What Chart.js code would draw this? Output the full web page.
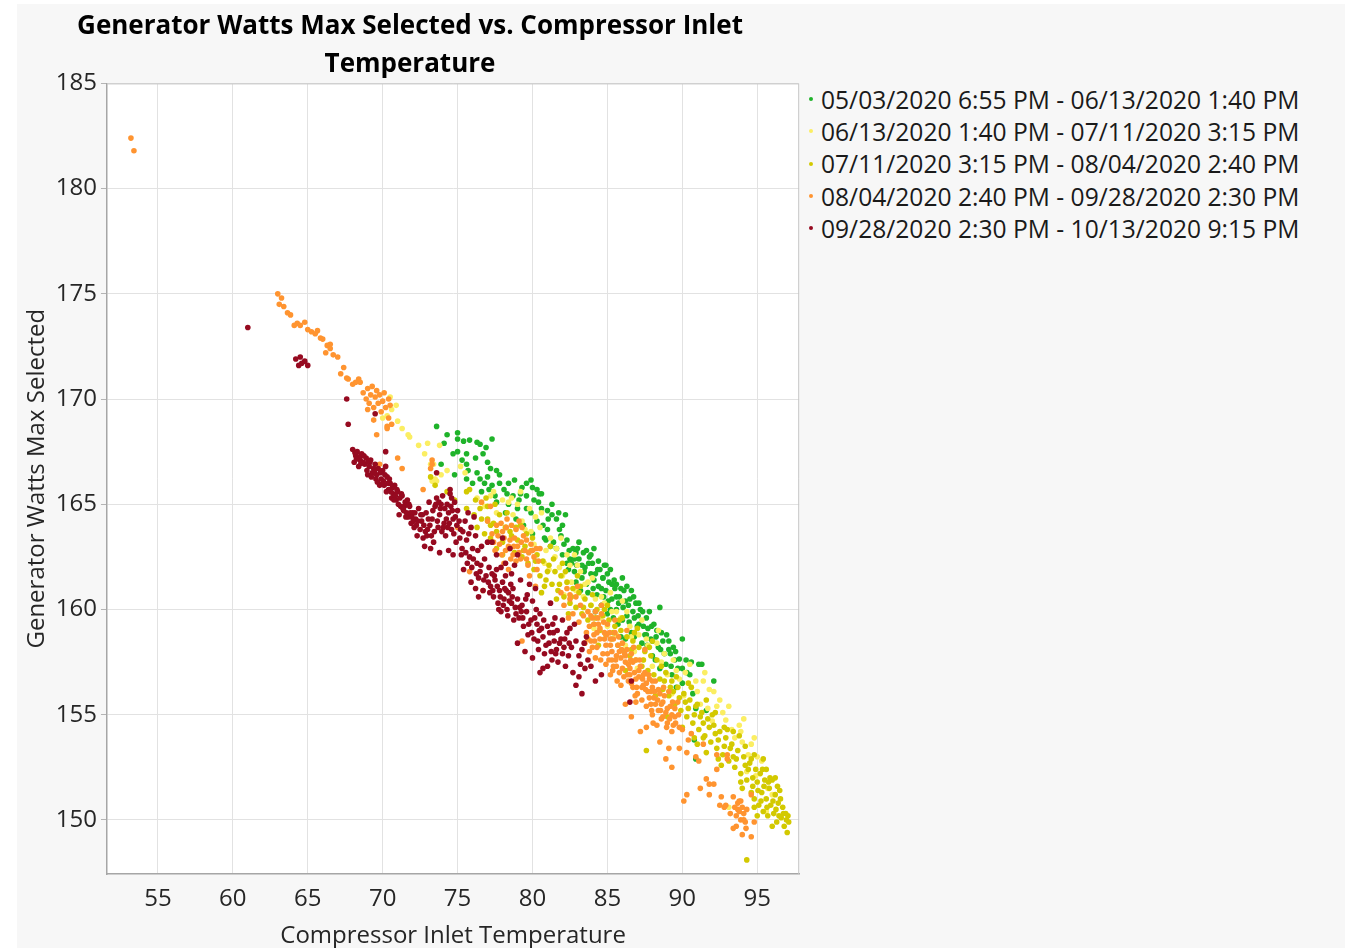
<!DOCTYPE html>
<html>
<head>
<meta charset="utf-8">
<title>Generator Watts Max Selected vs. Compressor Inlet Temperature</title>
<script src="https://cdn.jsdelivr.net/npm/chart.js@4.4.1/dist/chart.umd.min.js"></script>
<style>
  html, body { margin: 0; padding: 0; background: #ffffff; }
  #panel { position: absolute; left: 17px; top: 4px; width: 1328px; height: 944px; background: #f7f7f7; }
  #plot { position: absolute; left: 17px; top: 4px; }
  #legend { position: absolute; left: 809px; top: 83px; font-family: "Open Sans", sans-serif; font-size: 24.6px; color: #1a1a1a; }
  #legend .row { height: 32.3px; display: flex; align-items: center; white-space: nowrap; }
  #legend .dot { width: 4px; height: 4px; border-radius: 50%; margin-right: 8px; flex: none; }
</style>
</head>
<body>
<div id="panel"></div>
<canvas id="plot" width="785" height="944"></canvas>
<div id="legend"></div>
<script>
// ---- period labels ----
const seriesLabels = [
  "05/03/2020 6:55 PM - 06/13/2020 1:40 PM",
  "06/13/2020 1:40 PM - 07/11/2020 3:15 PM",
  "07/11/2020 3:15 PM - 08/04/2020 2:40 PM",
  "08/04/2020 2:40 PM - 09/28/2020 2:30 PM",
  "09/28/2020 2:30 PM - 10/13/2020 9:15 PM"
];

// ---- axis ticks ----
const xTicks = [55, 60, 65, 70, 75, 80, 85, 90, 95];
const yTicks = [150, 155, 160, 165, 170, 175, 180, 185];

// ---- readings: [compressor inlet temperature, generator watts max selected] ----
const mayJunePts = [
  [73.6,168.7],[74.3,168.3],[75.0,168.4],[75.0,168.1],[75.4,168.0],[75.8,168.05],[76.3,167.95],[76.5,167.85],[77.3,168.1],
  [74.7,167.4],[75.0,167.5],[75.6,167.4],[76.7,167.4],[77.0,167.0],[75.6,166.9],[75.7,166.6],[74.8,166.4],[77.2,166.7],
  [77.6,166.6],[77.8,166.4],[75.6,166.2],[76.0,166.0],[76.5,166.2],[74.1,167.9],[76.9,167.7],[73.9,166.9],[76.2,167.2],
  [78.4,166.0],[78.8,166.15],[79.6,166.0],[79.9,166.15],[78.3,165.5],[79.2,165.5],[79.6,165.4],[80.1,165.2],[80.4,165.1],
  [77.6,165.1],[78.4,165.0],[79.0,164.8],[79.6,164.8],[79.9,164.6],[81.0,164.7],[82.2,164.5],[80.3,164.2],[80.7,164.0],
  [81.0,163.8],[81.4,163.2],[82.1,163.1],[82.7,162.9],[82.9,162.7],[82.5,162.4],[76.8,166.0],[77.3,165.9],[77.8,166.0],
  [76.6,165.6],[77.5,165.4],[80.0,165.8],[80.6,165.5],[81.3,165.0],[81.6,164.3],[78.9,164.3],[79.4,164.0],[80.0,163.6],
  [80.9,163.3],[81.8,163.8],[82.0,164.0],[78.2,164.6],[80.8,163.4],[81.2,163.0],[81.6,162.9],[82.0,162.6],[81.9,163.5],[82.3,162.2],
  [82.6,162.2],[82.8,161.8],[83.1,162.4],[83.3,161.5],[83.5,162.0],[83.6,161.2],[83.8,162.5],[83.9,161.7],[83.2,160.9],
  [82.9,161.3],[83.7,160.8],[84.0,162.2],[82.4,161.9],[83.4,162.7],[83.0,162.9],[83.9,162.6],
  [84.1,161.4],[84.3,160.7],[84.5,161.9],[84.6,160.2],[84.7,161.5],[84.9,160.9],[85.0,159.8],[85.1,161.3],[85.3,160.5],
  [85.4,159.6],[84.2,159.9],[84.8,162.1],[85.5,161.0],[84.4,161.1],[85.2,160.0],[84.9,162.1],[85.3,161.2],[84.7,161.5],
  [85.6,160.0],[85.7,159.3],[85.8,160.6],[86.0,159.5],[86.1,160.9],[86.3,159.7],[86.3,161.1],[86.5,160.5],[86.6,158.9],
  [86.7,159.9],[86.9,160.3],[87.0,159.2],[85.9,158.7],[86.2,158.6],[86.8,158.7],[85.6,161.2],[86.4,160.2],[86.0,161.5],
  [87.1,160.3],[87.1,159.3],[87.3,158.4],[87.5,158.8],[87.6,159.6],[87.9,158.6],[88.0,157.8],[88.3,159.0],[88.5,160.1],
  [88.5,157.2],[88.7,158.5],[88.9,157.4],[89.1,158.1],[87.6,158.8],[88.0,158.5],[88.2,157.6],[87.8,159.9],[88.6,158.9],
  [89.1,158.5],[89.3,156.9],[89.5,157.6],[89.8,157.65],[90.0,157.2],[90.0,158.6],[90.0,156.5],[90.3,157.0],[90.5,156.9],
  [90.9,155.3],[91.1,157.4],[91.3,157.4],[91.6,155.2],[92.1,156.6],[90.8,153.8],[90.9,152.9],[89.6,156.3],[90.7,156.0],[89.2,157.9],
  [82.3,163.3],[82.8,162.4],[83.3,162.1],[83.6,162.8],[84.2,161.7],[84.4,162.3],[84.6,161.0],[85.0,161.7],[85.2,161.9],
  [85.6,160.6],[85.9,161.0],[86.2,160.4],[86.6,160.9],[86.8,159.6],[87.2,160.0],[87.4,159.2],[87.7,159.1],[88.1,159.3],
  [88.4,158.2],[88.8,157.9],[89.4,158.2],[89.7,157.2],[80.3,165.7],[79.3,165.8],[78.7,165.4],[81.3,164.5],[80.6,164.8],
  [77.1,165.7],[76.3,166.5],[75.3,167.1],[83.1,163.2],[84.1,162.9],
  [82.45,162.8],[82.95,162.1],[83.45,161.8],[83.75,162.2],[84.05,161.0],[84.35,161.9],[84.75,160.6],[85.05,160.4],
  [85.45,161.4],[85.75,160.3],[86.05,160.1],[86.45,159.4],[86.75,160.6],[87.05,159.7],[87.35,159.9],[87.65,158.3],
  [87.95,159.2],[88.25,158.7],[88.55,158.1],[88.95,158.8],[89.25,157.3],[89.55,158.0],[90.25,157.6],[90.6,157.5],
  [81.75,164.6],[81.05,164.3],[80.45,165.5],[79.1,165.2],[78.1,165.7],[77.0,166.3]
];

const juneJulyPts = [
  [70.5,170.1],[70.6,169.5],[71.0,168.95],[70.0,169.1],[70.3,169.2],[71.7,168.3],[71.8,168.2],[72.4,167.8],[73.0,167.9],
  [73.8,167.8],[73.4,166.9],[73.2,166.9],[73.3,166.1],[73.6,166.1],[73.5,166.2],[75.2,166.8],[75.5,166.5],[72.8,167.4],
  [74.3,166.6],[71.3,168.6],[73.9,166.4],[70.9,169.7],
  [76.3,165.3],[76.8,164.9],[77.2,165.4],[77.6,164.6],[78.0,165.2],[78.4,165.1],[78.7,164.5],[79.0,165.0],[79.3,164.2],
  [79.8,164.8],[79.5,163.8],[78.2,163.9],[77.0,164.2],[80.2,164.4],
  [80.5,163.9],[80.9,162.8],[81.2,163.4],[81.5,162.5],[81.8,162.0],[82.0,161.6],[82.3,162.6],[82.6,161.3],[82.9,160.9],
  [83.2,161.8],[83.4,160.6],[83.7,161.3],[83.9,160.2],[81.1,161.9],[82.1,160.7],[80.8,162.2],[83.0,162.1],
  [84.2,160.5],[84.5,159.6],[84.8,160.3],[85.0,159.2],[85.3,159.9],[85.6,158.8],[85.9,159.6],[86.2,158.3],[86.5,159.2],
  [86.8,158.0],[87.1,158.8],[87.4,157.6],[87.7,158.3],[88.0,157.3],[84.1,159.1],[86.0,160.4],[87.0,157.2],[88.3,158.4],
  [88.6,157.5],[89.0,156.9],[89.4,157.6],[89.8,156.7],[90.2,157.0],[90.5,157.4],[90.6,156.3],[91.0,156.1],[91.4,156.6],
  [91.8,156.2],[92.1,156.1],[92.3,155.4],[92.7,155.1],[92.9,154.75],[93.3,154.3],[93.5,153.9],[94.0,153.7],[94.6,153.6],
  [92.0,154.7],[94.3,152.3],[94.9,152.1],[96.0,151.2],[91.2,155.5],[93.8,154.5],[95.3,152.8],[90.1,155.9],[89.3,156.0],
  [93.1,150.6],[95.6,150.4],
  [80.1,163.1],[81.6,162.9],[82.5,162.1],[83.5,161.2],[84.6,160.6],[85.6,159.9],[86.6,158.7],[87.6,158.6],[88.8,157.9],
  [78.6,165.3],[77.4,165.6],[79.9,163.7],[90.9,156.6],[91.7,155.3],[92.5,155.7],[93.9,154.2],[94.4,153.1],[95.0,153.0],[95.7,151.5],
  [79.2,165.6],[80.6,164.6],[81.9,163.4],[82.8,162.6],[84.0,161.5],[85.2,160.8],[86.3,159.9],[87.3,159.5],[88.4,159.0],
  [89.6,157.1],[91.5,157.0],[93.1,155.4],[94.1,154.8],[94.8,153.9]
];

const julyAugPts = [
  [73.2,166.3],[73.5,165.9],[74.3,165.6],[75.6,165.6],[75.8,165.7],[75.6,164.8],[74.8,165.2],[76.5,164.8],[77.0,164.3],
  [77.2,164.0],[76.2,165.2],[77.6,162.9],[78.0,162.6],
  [76.1,164.5],[76.3,163.9],[76.6,164.3],[76.8,163.6],[77.0,164.9],[77.2,163.4],[77.4,164.1],[77.6,163.7],[77.8,164.5],
  [78.0,163.2],[78.2,163.9],[78.4,162.9],[78.6,163.5],[78.8,162.7],[79.0,163.3],[76.9,165.3],[77.5,165.0],[78.3,164.6],[79.2,164.0],
  [79.3,162.5],[79.5,163.0],[79.7,162.2],[79.9,162.8],[80.1,161.9],[80.3,162.6],[80.5,161.6],[80.7,162.3],[80.9,161.4],
  [81.1,162.1],[81.3,161.2],[81.5,161.8],[81.7,160.9],[81.9,161.6],[82.1,160.6],[82.3,161.3],[82.5,160.3],[82.7,161.0],
  [82.9,160.1],[83.1,160.8],[83.3,159.8],[83.5,160.5],[83.7,159.5],[83.9,160.2],[80.0,163.4],[81.2,163.0],[82.0,162.2],
  [83.0,161.6],[80.6,160.8],[82.4,159.8],
  [84.1,159.3],[84.3,160.0],[84.5,159.0],[84.7,159.7],[84.9,158.8],[85.1,159.5],[85.3,158.6],[85.5,159.2],[85.7,158.3],
  [85.9,159.0],[86.1,158.0],[86.3,158.7],[86.5,157.8],[86.7,158.5],[86.9,157.6],[87.1,158.2],[87.3,157.3],[87.5,158.0],
  [87.7,157.1],[87.9,157.8],[88.1,156.9],[88.3,157.6],[88.5,156.7],[85.0,160.2],[86.0,159.6],[87.0,159.1],[88.0,158.5],
  [84.4,158.3],[86.2,157.1],
  [88.7,156.2],[88.9,157.0],[89.1,155.9],[89.3,156.6],[89.5,155.5],[89.7,156.3],[89.9,155.2],[90.1,156.0],[90.3,154.9],
  [90.5,155.7],[90.7,154.6],[90.9,155.4],[91.1,154.3],[91.3,155.1],[91.5,154.0],[91.7,154.8],[91.9,153.7],[92.1,154.5],
  [92.3,153.4],[92.5,154.2],[92.7,153.1],[92.9,153.9],[93.1,152.8],[93.3,153.6],[93.5,152.5],[93.7,153.3],[93.9,152.2],
  [94.1,153.0],[94.3,151.9],[94.5,152.7],[94.7,151.6],[94.9,152.4],[90.0,154.4],[91.0,153.6],[92.0,155.0],[93.0,154.3],
  [94.0,151.5],[89.0,154.9],[90.6,156.3],[92.6,152.6],[93.8,154.0],[91.6,153.2],[87.6,153.3],
  [94.8,151.0],[95.0,151.8],[95.1,150.7],[95.2,152.2],[95.3,151.3],[95.4,150.4],[95.5,151.9],[95.6,151.0],[95.7,150.2],
  [95.8,151.5],[95.9,150.7],[96.0,151.9],[96.1,150.3],[96.2,151.2],[96.3,149.9],[96.4,150.8],[96.5,151.4],[96.6,150.1],
  [96.7,150.6],[96.8,149.7],[96.9,150.3],[97.0,149.4],[97.1,149.9],[95.0,150.2],[95.6,152.4],[96.2,152.0],[94.8,150.6],
  [96.0,149.7],[94.6,152.9],[94.3,148.1],
  [95.05,151.4],[95.25,150.9],[95.45,151.6],[95.65,150.6],[95.85,152.0],[96.05,150.9],[96.25,150.5],[96.45,150.2],
  [96.55,151.0],[96.75,150.3],[96.95,150.0],[97.05,150.2],[95.35,152.4],[95.75,151.8],[96.35,151.6],[94.6,151.3],
  [94.4,152.4],[94.2,152.6],[93.6,152.9],[93.4,153.0],[93.2,153.4],[92.8,153.5],[92.4,153.8],[92.2,154.1],[91.8,154.4],
  [91.4,154.6],[91.2,154.9],[90.8,155.0],[90.4,155.3],[90.2,155.6],[89.8,155.8],[89.4,156.1],[89.2,156.3],[88.8,156.6],
  [93.9,151.8],[94.7,152.0],[92.4,152.9],[91.4,153.9],
  [80.2,162.3],[81.0,161.8],[81.8,161.2],[82.6,160.6],[83.4,160.1],[84.2,159.6],[85.4,158.9],[86.6,158.1],[87.4,157.6],
  [78.5,163.7],[79.4,162.8],
  [80.8,161.1],[81.6,160.5],[82.2,161.8],[83.2,161.1],[84.0,160.7],[84.8,160.0],[85.8,159.5],[86.8,158.9],[87.8,158.2],
  [88.6,157.3],[89.6,156.8],[90.4,156.5],[91.0,155.5],[91.6,155.7],[92.2,155.1],[92.8,154.4],[93.4,154.2],[94.2,153.5],
  [94.8,153.1],[95.4,152.9],[79.6,163.6],[78.9,163.9],[81.4,162.4],[88.2,155.9],[90.8,153.9]
];

const augSeptPts = [
  [53.2,182.4],[53.4,181.8],
  [63.0,175.0],[63.25,174.8],[63.1,174.5],[63.4,174.4],[63.65,174.1],[63.85,174.0],[64.1,173.5],[64.3,173.6],[64.5,173.5],
  [64.8,173.65],[65.0,173.3],[65.25,173.2],[65.5,173.1],[65.65,173.25],[65.85,172.9],[66.0,172.85],[66.3,172.55],[66.5,172.6],
  [66.2,172.2],[66.5,172.4],[66.7,172.1],[67.0,172.0],[67.4,171.5],[67.2,171.2],[67.6,171.0],[67.7,170.95],[68.0,170.7],
  [68.2,170.8],[68.4,170.95],[68.5,170.8],
  [68.7,170.3],[68.9,170.0],[69.0,170.5],[69.1,169.8],[69.2,170.2],[69.3,170.6],[69.4,169.6],[69.5,170.1],[69.6,170.4],
  [69.7,169.8],[69.8,170.2],[70.0,169.9],[70.1,170.3],[70.2,169.6],[70.4,170.0],[69.9,169.4],[70.5,169.7],[69.0,169.5],
  [69.4,169.0],[70.3,168.7],[70.4,169.1],[70.6,168.8],[69.6,168.3],[70.3,168.6],
  [71.0,167.2],[71.3,166.7],[73.3,167.1],[73.2,166.7],[72.7,165.7],[69.8,166.9],[75.0,163.9],[75.8,161.8],[76.7,160.9],
  [79.3,158.5],[73.3,166.9],
  [77.0,164.2],[77.3,163.6],[77.6,164.0],[77.8,163.1],[78.0,163.7],[78.2,162.8],[78.3,164.3],[78.5,163.3],[78.7,162.6],
  [78.9,163.8],[79.0,163.0],[79.2,162.4],[79.4,163.5],[79.5,162.8],[79.7,162.1],[79.9,163.1],[80.1,162.5],[80.3,161.9],
  [78.1,162.2],[77.5,162.8],[79.1,164.2],[80.5,162.9],[78.6,164.0],[77.2,164.9],[76.6,165.1],[78.4,161.9],[79.8,161.6],[80.2,161.1],
  [77.4,163.2],[77.9,164.1],[78.1,163.4],[78.4,163.0],[78.8,163.4],[79.1,162.7],[79.3,163.9],[79.6,163.3],[80.0,162.8],
  [80.4,162.3],[78.9,162.3],[79.6,162.4],
  [77.7,163.5],[78.25,163.9],[78.75,163.0],[79.25,163.2],[79.75,162.7],[80.25,162.9],[78.55,162.4],[77.95,162.6],
  [81.9,160.8],[82.1,160.2],[82.3,161.0],[82.5,160.5],[82.7,159.8],[82.9,160.6],[83.1,159.4],[83.2,160.2],[83.4,159.7],
  [82.4,159.6],[83.0,161.1],[82.5,160.7],
  [83.6,158.9],[83.7,159.9],[83.8,159.2],[83.9,158.5],[84.0,159.6],[84.1,158.8],[84.2,159.9],[84.3,158.2],[84.4,159.3],
  [84.5,158.6],[84.6,159.8],[84.7,157.9],[84.8,158.9],[84.9,158.3],[85.0,159.3],[84.2,157.7],[83.8,158.0],[84.6,160.2],
  [85.1,157.6],[85.2,158.6],[85.3,158.0],[85.4,157.3],[85.5,158.9],[85.6,157.8],[85.7,158.3],[85.8,157.0],[85.9,157.7],
  [86.0,158.4],[86.1,156.8],[86.2,157.5],[86.3,158.1],[86.4,156.6],[86.5,157.2],[85.2,156.9],[85.9,156.4],[86.3,159.0],[85.5,159.5],
  [86.6,157.9],[86.7,156.3],[86.8,157.0],[86.9,157.6],[87.0,156.0],[87.1,156.8],[87.2,157.3],[87.3,155.7],[87.4,156.4],
  [87.5,157.0],[87.6,155.4],[87.7,156.1],[87.8,156.7],[87.9,155.5],[88.0,156.3],[86.9,155.6],[87.5,158.1],[88.0,155.0],
  [88.1,155.8],[88.2,156.6],[88.4,155.2],[88.5,156.0],[88.6,154.8],[88.7,155.6],[88.9,155.1],[89.0,154.6],[89.2,155.4],
  [89.3,154.2],[89.5,154.9],[89.7,155.6],[89.8,154.4],[88.3,154.5],[89.1,156.1],
  [83.5,158.4],[83.7,158.6],[84.0,158.2],[84.3,158.9],[84.5,159.1],[84.8,158.6],[85.0,157.9],[85.2,158.3],[85.4,158.6],
  [85.6,157.3],[85.8,158.0],[86.0,157.2],[86.2,157.8],[86.4,157.4],[86.5,156.9],[86.7,157.5],[86.9,156.7],[87.1,157.1],
  [87.3,156.3],[87.4,156.9],[87.6,156.5],[87.8,155.8],[88.0,156.6],[88.2,155.5],[88.4,156.2],[88.6,155.5],[88.8,155.9],
  [89.0,155.3],[89.3,155.0],[89.5,155.3],[84.1,159.3],[85.3,157.6],[86.6,156.5],[87.9,156.1],[89.4,154.5],[88.7,154.9],
  [83.9,159.7],[84.15,158.5],[84.35,159.6],[84.55,157.6],[84.75,159.4],[84.95,158.8],[85.15,158.9],[85.35,157.1],
  [85.55,157.6],[85.75,158.7],[85.95,158.1],[86.15,157.9],[86.35,156.9],[86.55,157.6],[86.75,158.2],[86.95,156.3],
  [87.15,157.6],[87.35,156.7],[87.55,156.2],[87.75,156.9],[87.95,155.2],[88.15,156.1],[88.35,155.7],[88.55,155.2],
  [88.75,156.3],[88.95,154.4],[89.15,154.8],[89.35,155.6],[89.55,154.6],[89.75,155.0],[85.65,156.6],[86.85,155.9],
  [88.05,154.6],[84.9,157.4],
  [87.6,154.4],[89.1,153.4],[88.9,152.9],[89.3,152.5],[89.8,153.4],[90.3,153.2],[91.1,152.8],[90.9,153.0],[91.6,151.95],
  [91.8,151.7],[92.1,151.7],[90.3,151.2],[91.8,151.2],[92.5,150.7],[92.8,150.6],[92.9,150.7],[90.1,150.9],[86.6,154.9],
  [86.2,155.5],[87.2,154.2],[90.6,154.1],[91.4,153.6],[92.3,152.4],[93.0,152.9],[88.5,153.7],[92.3,153.1],[93.0,153.1],
  [90.0,154.3],[90.4,153.8],[91.2,151.5],[92.6,151.1],
  [93.5,150.6],[93.6,150.2],[93.7,150.8],[93.8,150.4],[93.9,150.0],[94.0,150.6],[94.1,150.3],[94.2,149.9],[93.6,149.7],
  [94.3,150.5],[93.9,150.9],[93.4,151.1],[94.6,151.2],[93.2,150.3],[93.8,150.9],[94.1,150.0],[93.7,150.5],
  [94.0,149.3],[94.6,149.2],[94.25,149.6],[94.8,149.9],[93.4,149.6]
];

const septOctPts = [
  [61.0,173.4],[64.2,171.9],[64.5,172.0],[64.8,171.8],[64.4,171.6],[64.6,171.7],[65.0,171.6],[67.6,170.0],[67.7,168.8],
  [69.5,169.3],[70.2,167.5],
  [68.0,167.6],[68.2,167.3],[68.3,167.5],[68.5,167.1],[68.6,167.4],[68.8,166.9],[68.9,167.2],[69.1,166.8],[69.2,167.1],
  [69.3,166.5],[69.5,166.9],[69.6,166.4],[69.7,166.7],[69.9,166.2],[70.0,166.6],[70.1,165.9],[70.3,166.3],[70.4,165.7],
  [70.5,166.0],[70.7,165.5],[70.8,165.9],[70.9,165.2],[71.0,165.6],[71.2,164.9],[71.3,165.4],[71.4,164.7],[71.5,165.1],
  [71.7,164.4],[71.8,164.9],[71.9,164.1],[72.0,164.6],[72.1,163.9],[72.2,164.3],[68.4,166.8],[69.0,166.4],[69.8,165.9],
  [70.6,165.3],[71.1,164.5],[72.3,163.5],[68.1,167.0],[70.2,166.8],
  [68.15,167.45],[68.45,167.25],[68.7,167.0],[68.95,166.6],[69.15,167.0],[69.4,166.7],[69.55,166.2],[69.85,166.5],
  [70.05,166.1],[70.25,165.6],[70.45,166.2],[70.65,165.8],[70.85,165.4],[71.05,165.0],[71.25,165.5],[71.45,164.9],
  [71.6,164.6],[71.65,165.2],[71.85,164.6],[72.05,164.2],[72.25,164.0],[72.5,163.8],[72.55,164.5],[72.75,164.0],
  [68.25,167.15],[68.55,166.95],[68.75,167.3],[69.05,167.05],[69.25,166.3],[69.45,166.55],[69.65,166.05],[69.95,165.95],
  [70.15,166.4],[70.35,166.0],[70.55,165.6],[70.75,165.2],[70.95,165.7],[71.15,165.3],[71.35,164.8],[71.55,164.4],
  [71.75,165.0],[71.95,164.4],[72.15,164.6],[72.35,164.2],[72.65,164.5],[72.85,163.7],[73.05,164.3],[73.25,163.5],
  [72.4,164.8],[72.6,164.2],[72.7,163.4],[72.9,164.6],[73.0,163.8],[73.1,165.1],[73.3,164.3],[73.4,163.2],[73.5,164.9],
  [73.6,165.3],[73.7,163.9],[73.8,164.5],[74.0,165.4],[74.1,164.1],[74.2,163.5],[74.3,165.0],[74.4,164.6],[74.5,165.5],
  [74.6,163.8],[74.7,164.3],[74.8,165.1],[74.9,163.2],[75.0,164.7],[73.2,162.9],[72.8,163.0],[74.4,162.8],[73.9,165.0],
  [74.6,165.3],[73.6,166.5],[74.5,165.7],[73.8,162.7],[74.7,162.6],
  [72.95,163.5],[73.15,164.0],[73.35,164.7],[73.45,163.7],[73.65,164.2],[73.85,164.8],[73.95,163.7],[74.15,164.8],
  [74.25,164.3],[74.35,163.9],[74.55,164.9],[74.75,163.6],[74.85,164.4],
  [73.55,165.0],[73.75,165.1],[74.05,163.9],[74.45,164.1],[74.65,164.7],[74.95,164.0],
  [75.2,163.8],[75.3,162.9],[75.5,164.2],[75.6,163.3],[75.8,162.5],[75.9,163.9],[76.0,162.9],[76.2,163.5],[76.3,162.2],
  [76.5,161.8],[76.6,163.0],[76.8,162.4],[76.9,161.6],[77.0,163.2],[75.4,161.9],[76.1,164.4],[75.7,164.6],[76.4,161.5],
  [77.1,162.0],[75.9,161.3],[76.2,161.0],[76.7,160.9],[76.4,160.6],
  [75.1,164.2],[75.15,163.4],[75.35,163.7],[75.55,162.7],[75.75,163.6],[76.05,162.4],[76.35,162.8],[76.55,162.1],
  [75.25,162.6],[75.65,162.2],[75.95,162.0],[76.25,161.7],[76.75,161.4],
  [77.2,161.1],[77.4,160.6],[77.5,161.4],[77.7,160.3],[77.8,160.9],[78.0,161.3],[78.1,160.5],[78.3,160.0],[78.4,160.8],
  [78.6,160.3],[78.7,161.0],[78.9,159.8],[79.0,160.5],[77.3,161.7],[78.2,161.6],[77.9,159.9],[79.1,159.6],[77.6,161.9],
  [77.05,161.3],[77.35,160.9],[77.65,161.1],[77.85,160.6],[78.05,160.2],[78.25,160.9],[78.45,160.4],[78.65,160.6],
  [78.85,160.1],[79.15,160.1],
  [77.15,160.8],[77.45,161.6],[77.75,160.0],[78.15,161.0],[78.35,159.7],[78.55,161.2],[78.75,159.5],
  [77.3,163.2],[77.6,162.6],[78.0,163.4],[78.2,162.2],[78.5,162.9],[78.8,162.1],[79.0,162.6],[77.9,162.0],[78.6,161.7],[79.2,161.4],
  [79.3,160.2],[79.4,159.2],[79.6,159.9],[79.7,158.8],[79.9,159.5],[80.0,160.4],[80.1,158.6],[80.3,159.3],[80.4,158.1],
  [80.5,159.8],[80.7,158.7],[80.8,157.9],[81.0,159.2],[81.1,158.4],[81.3,157.6],[81.4,158.9],[81.6,158.1],[81.7,157.5],
  [81.9,158.6],[82.0,157.9],[80.5,157.0],[80.7,157.2],[79.5,158.0],[80.2,161.0],[81.2,160.3],[79.8,161.2],[81.5,159.6],
  [79.35,159.6],[79.55,160.5],[79.75,159.3],[79.95,158.9],[80.15,159.6],[80.35,158.5],[80.6,159.1],[80.9,158.3],
  [81.15,158.9],[81.35,159.3],[81.55,157.9],[81.8,158.4],[82.1,158.2],[82.4,157.8],[80.0,157.7],[81.0,157.3],[79.0,158.4],
  [79.25,159.9],[79.65,160.7],[80.25,160.0],[80.45,159.0],[80.75,159.5],[81.25,158.0],[81.45,158.5],[81.65,159.0],
  [82.15,158.6],[82.45,158.4],[82.8,159.3],[83.2,157.4],[83.45,158.4],
  [82.0,159.5],[82.3,158.9],[82.5,159.1],[82.6,158.2],[82.9,158.5],[83.1,157.8],[83.3,158.1],[83.5,157.2],[83.7,157.6],
  [83.9,157.3],[83.1,156.8],[82.9,156.4],[83.3,156.0],[82.2,157.3],[82.7,157.0],[83.6,158.7],[84.2,156.6],[84.6,156.9],
  [86.6,156.6],[86.5,155.6]
];

// ---- marker colours per period ----
const seriesColors = ["#1fb32a", "#fbee62", "#d3c900", "#ff9430", "#960a20"];
const seriesPoints = [mayJunePts, juneJulyPts, julyAugPts, augSeptPts, septOctPts];

const FONT = "'Open Sans', 'Noto Sans', sans-serif";

// white plotting area and the grey frame around it
const plotFrame = {
  id: 'plotFrame',
  beforeDraw(chart) {
    const { ctx, chartArea: a } = chart;
    ctx.save();
    ctx.fillStyle = '#ffffff';
    ctx.fillRect(a.left, a.top, a.right - a.left, a.bottom - a.top);
    ctx.restore();
  },
  beforeDatasetsDraw(chart) {
    const { ctx, chartArea: a } = chart;
    ctx.save();
    ctx.strokeStyle = '#c6c6c6';
    ctx.lineWidth = 1;
    ctx.beginPath();
    ctx.moveTo(a.left, a.top + 0.5);
    ctx.lineTo(a.right - 0.5, a.top + 0.5);
    ctx.lineTo(a.right - 0.5, a.bottom);
    ctx.stroke();
    ctx.restore();
  }
};

const datasets = seriesLabels.map((label, i) => ({
  label,
  data: seriesPoints[i].map(([x, y]) => ({ x, y })),
  backgroundColor: seriesColors[i],
  borderWidth: 0,
  pointRadius: 2.8,
  pointHoverRadius: 2.8,
  order: seriesLabels.length - i   // later periods paint over earlier ones
}));

new Chart(document.getElementById('plot'), {
  type: 'scatter',
  data: { datasets },
  options: {
    responsive: false,
    animation: false,
    events: [],
    layout: { padding: { left: 3, right: 2, top: 0, bottom: 0 } },
    plugins: {
      legend: { display: false },
      tooltip: { enabled: false },
      title: {
        display: true,
        text: ['Generator Watts Max Selected vs. Compressor Inlet', 'Temperature'],
        color: '#000000',
        font: { family: FONT, size: 26, weight: 'bold', lineHeight: 1.45 },
        padding: { top: 4, bottom: 0 }
      }
    },
    scales: {
      x: {
        type: 'linear',
        min: 51.6,
        max: 97.8,
        afterBuildTicks: (scale) => { scale.ticks = xTicks.map(v => ({ value: v })); },
        grid: { color: '#e2e2e2', lineWidth: 1, drawTicks: false },
        border: { display: true, color: '#a6a6a6', width: 1.5 },
        ticks: { color: '#262626', font: { family: FONT, size: 24, lineHeight: 1.0 }, padding: 13, maxRotation: 0 },
        title: {
          display: true,
          text: 'Compressor Inlet Temperature',
          color: '#262626',
          font: { family: FONT, size: 24, lineHeight: 1.0 },
          padding: { top: 0, bottom: 0 }
        }
      },
      y: {
        type: 'linear',
        min: 147.43,
        max: 185,
        afterBuildTicks: (scale) => { scale.ticks = yTicks.map(v => ({ value: v })); },
        grid: { color: '#e2e2e2', lineWidth: 1, drawTicks: true, tickLength: 6, tickColor: '#b4b4b4' },
        border: { display: true, color: '#a6a6a6', width: 1.5 },
        ticks: { color: '#262626', font: { family: FONT, size: 24 }, padding: 4 },
        title: {
          display: true,
          text: 'Generator Watts Max Selected',
          color: '#262626',
          font: { family: FONT, size: 24 },
          padding: { top: 3, bottom: 0 }
        }
      }
    }
  },
  plugins: [plotFrame]
});

// legend of periods, to the right of the plot
const legendBox = document.getElementById('legend');
seriesLabels.forEach((label, i) => {
  const row = document.createElement('div');
  row.className = 'row';
  const dot = document.createElement('span');
  dot.className = 'dot';
  dot.style.background = seriesColors[i];
  const txt = document.createElement('span');
  txt.textContent = label;
  row.appendChild(dot);
  row.appendChild(txt);
  legendBox.appendChild(row);
});
</script>
</body>
</html>
